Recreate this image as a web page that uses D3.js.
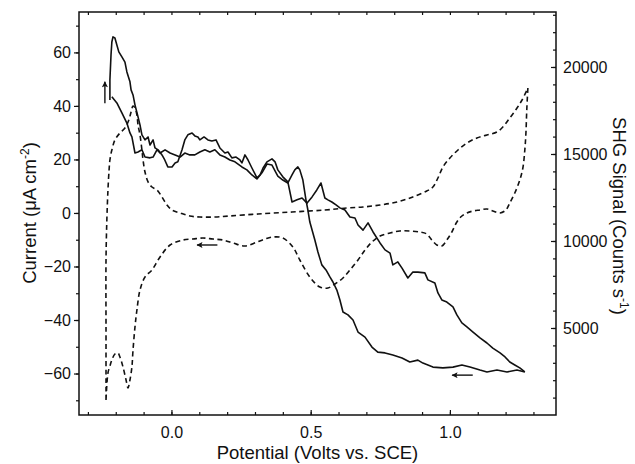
<!DOCTYPE html>
<html><head><meta charset="utf-8">
<script src="https://cdn.jsdelivr.net/npm/d3@7"></script>
<style>
html,body{margin:0;padding:0;background:#fff;}
svg{display:block;}
text{font-family:"Liberation Sans",Arial,Helvetica,sans-serif;fill:#111;}
</style></head>
<body>
<svg id="c" width="635" height="464"></svg>
<script>
// ---- data ----
const potentialTicks = [0.0, 0.5, 1.0];
const currentTicks = [-60, -40, -20, 0, 20, 40, 60];
const shgTicks = [5000, 10000, 15000, 20000];

// Current, forward scan (V vs SCE, µA cm^-2)
const fwdV = [-0.221,-0.221,-0.217,-0.214,-0.210,-0.203,-0.196,-0.189,-0.178,-0.167,-0.160,-0.149,-0.145,-0.138,-0.131,-0.120,-0.113,-0.106,-0.095,-0.084,-0.077,-0.066,-0.059,-0.048,-0.034,-0.024,-0.013,0.002,0.013,0.023,0.038,0.048,0.059,0.074,0.084,0.095,0.102,0.117,0.131,0.145,0.160,0.174,0.192,0.203,0.217,0.232,0.246,0.253,0.264,0.275,0.289,0.307,0.318,0.329,0.343,0.361,0.372,0.382,0.400,0.418,0.433,0.451,0.469,0.487,0.505,0.522,0.537,0.551,0.562,0.576,0.591,0.605,0.623,0.641,0.659,0.670,0.688,0.706,0.724,0.749,0.767,0.785,0.795,0.813,0.828,0.849,0.867,0.885,0.910,0.921,0.946,0.957,0.971,0.989,1.011,1.025,1.043,1.061,1.083,1.108,1.133,1.154,1.180,1.198,1.215,1.233,1.251,1.269];
const fwdI = [42.2,49.7,59.1,63.9,65.8,65.4,62.8,60.2,58.3,56.4,52.7,49.0,46.0,44.1,40.4,35.9,32.9,29.2,27.3,28.4,25.4,27.3,24.3,23.6,21.7,19.8,17.2,17.2,18.7,19.1,23.6,27.3,29.2,29.9,28.8,28.4,27.3,28.4,27.3,26.9,27.3,24.3,22.4,22.8,20.6,20.9,19.8,18.7,21.7,19.8,16.8,13.1,14.2,16.8,19.1,20.2,19.1,16.1,13.5,11.6,4.1,4.9,5.6,3.7,6.0,8.6,11.2,5.6,4.9,4.1,3.0,1.9,1.1,-1.5,-1.9,-4.5,-6.4,-3.7,-7.1,-11.2,-13.8,-15.0,-19.4,-18.3,-20.6,-24.3,-22.1,-22.1,-22.4,-25.0,-26.2,-29.9,-32.5,-33.3,-35.1,-38.1,-41.1,-42.6,-44.5,-46.7,-48.6,-50.5,-52.3,-53.8,-55.7,-56.8,-57.9,-59.4];

// Current, reverse scan
const revV = [1.269,1.241,1.205,1.169,1.133,1.108,1.072,1.043,1.011,0.975,0.939,0.903,0.885,0.856,0.828,0.795,0.767,0.741,0.720,0.695,0.670,0.652,0.634,0.616,0.605,0.594,0.580,0.569,0.555,0.540,0.526,0.515,0.508,0.497,0.490,0.483,0.472,0.461,0.454,0.443,0.433,0.418,0.400,0.382,0.361,0.343,0.325,0.307,0.289,0.271,0.253,0.228,0.210,0.192,0.174,0.156,0.138,0.120,0.102,0.084,0.066,0.048,0.031,0.013,-0.005,-0.023,-0.041,-0.052,-0.066,-0.077,-0.095,-0.106,-0.120,-0.131,-0.142,-0.149,-0.160,-0.178,-0.196,-0.214];
const revI = [-59.4,-58.7,-59.4,-58.7,-59.4,-58.7,-57.6,-56.8,-57.6,-57.9,-57.6,-56.1,-55.0,-55.7,-54.2,-53.1,-52.3,-52.0,-50.1,-46.4,-44.5,-40.0,-38.1,-37.0,-32.5,-28.8,-25.8,-23.9,-21.3,-19.4,-14.6,-10.1,-7.5,-3.4,1.1,4.9,12.3,16.1,17.2,16.1,14.2,11.2,12.3,13.8,17.9,18.3,15.0,12.7,14.2,16.1,17.2,19.1,19.8,20.9,21.7,23.6,22.8,23.6,22.8,21.7,21.7,22.4,20.9,21.7,22.4,23.6,22.4,23.6,20.9,20.6,20.9,23.6,22.8,22.4,28.4,29.9,33.6,37.4,41.1,43.4];

// SHG signal (counts s^-1), forward and reverse
const shgFwdV = [-0.235,-0.235,-0.235,-0.232,-0.228,-0.224,-0.221,-0.214,-0.203,-0.185,-0.167,-0.153,-0.145,-0.138,-0.131,-0.124,-0.120,-0.113,-0.106,-0.102,-0.095,-0.084,-0.070,-0.052,-0.034,-0.016,0.002,0.031,0.066,0.102,0.156,0.210,0.311,0.433,0.551,0.630,0.688,0.749,0.810,0.867,0.917,0.939,0.957,0.975,1.000,1.029,1.061,1.097,1.133,1.169,1.190,1.215,1.241,1.259,1.280];
const shgFwdC = [862,4885,8908,11207,12931,14080,14655,15230,15804,16207,16494,16954,17413,17758,17643,17241,16666,16092,15230,14655,13965,13391,13103,12931,12528,12069,11781,11609,11437,11379,11379,11437,11551,11666,11781,11896,11954,12069,12241,12528,12873,13103,13620,14253,14770,15230,15632,15919,16092,16264,16551,17069,17643,18103,18793];
const shgRevV = [1.280,1.276,1.273,1.269,1.262,1.251,1.233,1.215,1.201,1.180,1.154,1.133,1.108,1.083,1.061,1.043,1.025,1.007,0.989,0.971,0.953,0.935,0.917,0.892,0.856,0.820,0.785,0.749,0.720,0.695,0.670,0.641,0.616,0.587,0.562,0.533,0.497,0.461,0.436,0.400,0.364,0.336,0.307,0.264,0.221,0.185,0.149,0.113,0.077,0.041,-0.005,-0.041,-0.070,-0.095,-0.113,-0.124,-0.131,-0.138,-0.142,-0.149,-0.156,-0.163,-0.174,-0.185,-0.192,-0.203,-0.214,-0.221,-0.228,-0.235];
const shgRevC = [18793,17528,16207,15230,14195,13505,12758,12184,11781,11609,11724,11839,11781,11724,11609,11437,11092,10517,10057,9712,9770,10057,10402,10517,10575,10575,10460,10287,9942,9483,8908,8333,7873,7529,7299,7356,7931,8908,9655,10172,10230,10115,9942,9712,9885,10057,10115,10172,10115,10057,9770,9080,8333,7931,7184,6034,5057,3736,2759,2011,1552,2011,2759,3333,3563,3506,3161,2816,2414,862];

// scan-direction arrows: [tailV, tailY, headV, headY, axis]
const arrows = [
  [-0.239, 41.0, -0.239, 49.0, "current"],
  [0.165, 9770, 0.092, 9770, "shg"],
  [1.082, -60.6, 1.008, -60.6, "current"]
];

// ---- layout ----
const m = {left: 79, right: 556, top: 12, bottom: 415};
const svg = d3.select("#c");

const x = d3.scaleLinear().domain([-0.332, 1.381]).range([m.left, m.right]);
const yL = d3.scaleLinear().domain([-75.5, 75.1]).range([m.bottom, m.top]);
const yR = d3.scaleLinear().domain([0, 23160]).range([m.bottom, m.top]);

const ink = "#111";
const defs = svg.append("defs");
defs.append("marker").attr("id","ah").attr("viewBox","0 0 10 10").attr("refX",9).attr("refY",5)
  .attr("markerWidth",10).attr("markerHeight",6).attr("markerUnits","userSpaceOnUse").attr("orient","auto")
  .append("path").attr("d","M0,0L10,5L0,10L2,5Z").attr("fill",ink);

// frame
svg.append("rect").attr("x",m.left).attr("y",m.top).attr("width",m.right-m.left).attr("height",m.bottom-m.top)
  .attr("fill","none").attr("stroke",ink).attr("stroke-width",1.5);

// axes
const tickFont = g => g.selectAll("text").style("font-size","16px").style("font-family","'Liberation Sans',Arial,sans-serif").attr("fill",ink);
const clean = g => { g.select(".domain").remove(); g.selectAll("line").attr("stroke",ink).attr("stroke-width",1.2); };

const xMinor = d3.range(-3, 14).map(d => d/10);
svg.append("g").attr("transform",`translate(0,${m.bottom})`)
  .call(d3.axisBottom(x).tickValues(xMinor).tickSize(-3).tickFormat(""))
  .call(clean);
svg.append("g").attr("transform",`translate(0,${m.bottom})`)
  .call(d3.axisBottom(x).tickValues(potentialTicks).tickSize(-5).tickPadding(12).tickFormat(d3.format(".1f")))
  .call(clean).call(tickFont);
svg.append("g").attr("transform",`translate(0,${m.top})`)
  .call(d3.axisTop(x).tickValues(xMinor).tickSize(-3).tickFormat(""))
  .call(clean);

const lMinor = d3.range(-70, 80, 10);
svg.append("g").attr("transform",`translate(${m.left},0)`)
  .call(d3.axisLeft(yL).tickValues(lMinor).tickSize(3).tickFormat(""))
  .call(clean);
svg.append("g").attr("transform",`translate(${m.left},0)`)
  .call(d3.axisLeft(yL).tickValues(currentTicks).tickSize(5).tickPadding(3).tickFormat(d3.format("d")))
  .call(clean).call(tickFont);

const rMinor = d3.range(1000, 23001, 1000);
svg.append("g").attr("transform",`translate(${m.right},0)`)
  .call(d3.axisRight(yR).tickValues(rMinor).tickSize(-3).tickFormat(""))
  .call(clean);
svg.append("g").attr("transform",`translate(${m.right},0)`)
  .call(d3.axisRight(yR).tickValues(shgTicks).tickSize(-5).tickPadding(7).tickFormat(d3.format("d")))
  .call(clean).call(tickFont);

// axis titles
svg.append("text").attr("x",(m.left+m.right)/2).attr("y",459).attr("text-anchor","middle")
  .style("font-size","18.5px").text("Potential (Volts vs. SCE)");

const lt = svg.append("text").attr("transform","translate(36,213) rotate(-90)").attr("text-anchor","middle").style("font-size","18.5px");
lt.append("tspan").text("Current (\u03BCA cm");
lt.append("tspan").attr("dy",-7).style("font-size","12px").text("-2");
lt.append("tspan").attr("dy",7).text(")");

const rt = svg.append("text").attr("transform","translate(613,216) rotate(90)").attr("text-anchor","middle").style("font-size","18.5px");
rt.append("tspan").text("SHG Signal (Counts s");
rt.append("tspan").attr("dy",-7).style("font-size","12px").text("-1");
rt.append("tspan").attr("dy",7).text(")");

// curves
const lineL = d3.line().x(d => x(d[0])).y(d => yL(d[1])).curve(d3.curveLinear);
const lineRc = d3.line().x(d => x(d[0])).y(d => yR(d[1])).curve(d3.curveCatmullRom.alpha(0.5));

const fwd = fwdV.map((v,i) => [v, fwdI[i]]);
const rev = revV.map((v,i) => [v, revI[i]]);
const shg = shgFwdV.map((v,i) => [v, shgFwdC[i]]).concat(shgRevV.map((v,i) => [v, shgRevC[i]]));

svg.append("path").attr("d", lineRc(shg)).attr("fill","none").attr("stroke",ink)
  .attr("stroke-width",1.6).attr("stroke-dasharray","5,3.5");

svg.append("path").attr("d", lineL(fwd)).attr("fill","none").attr("stroke",ink).attr("stroke-width",1.6).attr("stroke-linejoin","round");
svg.append("path").attr("d", lineL(rev)).attr("fill","none").attr("stroke",ink).attr("stroke-width",1.6).attr("stroke-linejoin","round");

// arrows
arrows.forEach(a => {
  const ys = a[4] === "shg" ? yR : yL;
  svg.append("line").attr("x1",x(a[0])).attr("y1",ys(a[1])).attr("x2",x(a[2])).attr("y2",ys(a[3]))
    .attr("stroke",ink).attr("stroke-width",1.4).attr("marker-end","url(#ah)");
});
</script>
</body></html>
